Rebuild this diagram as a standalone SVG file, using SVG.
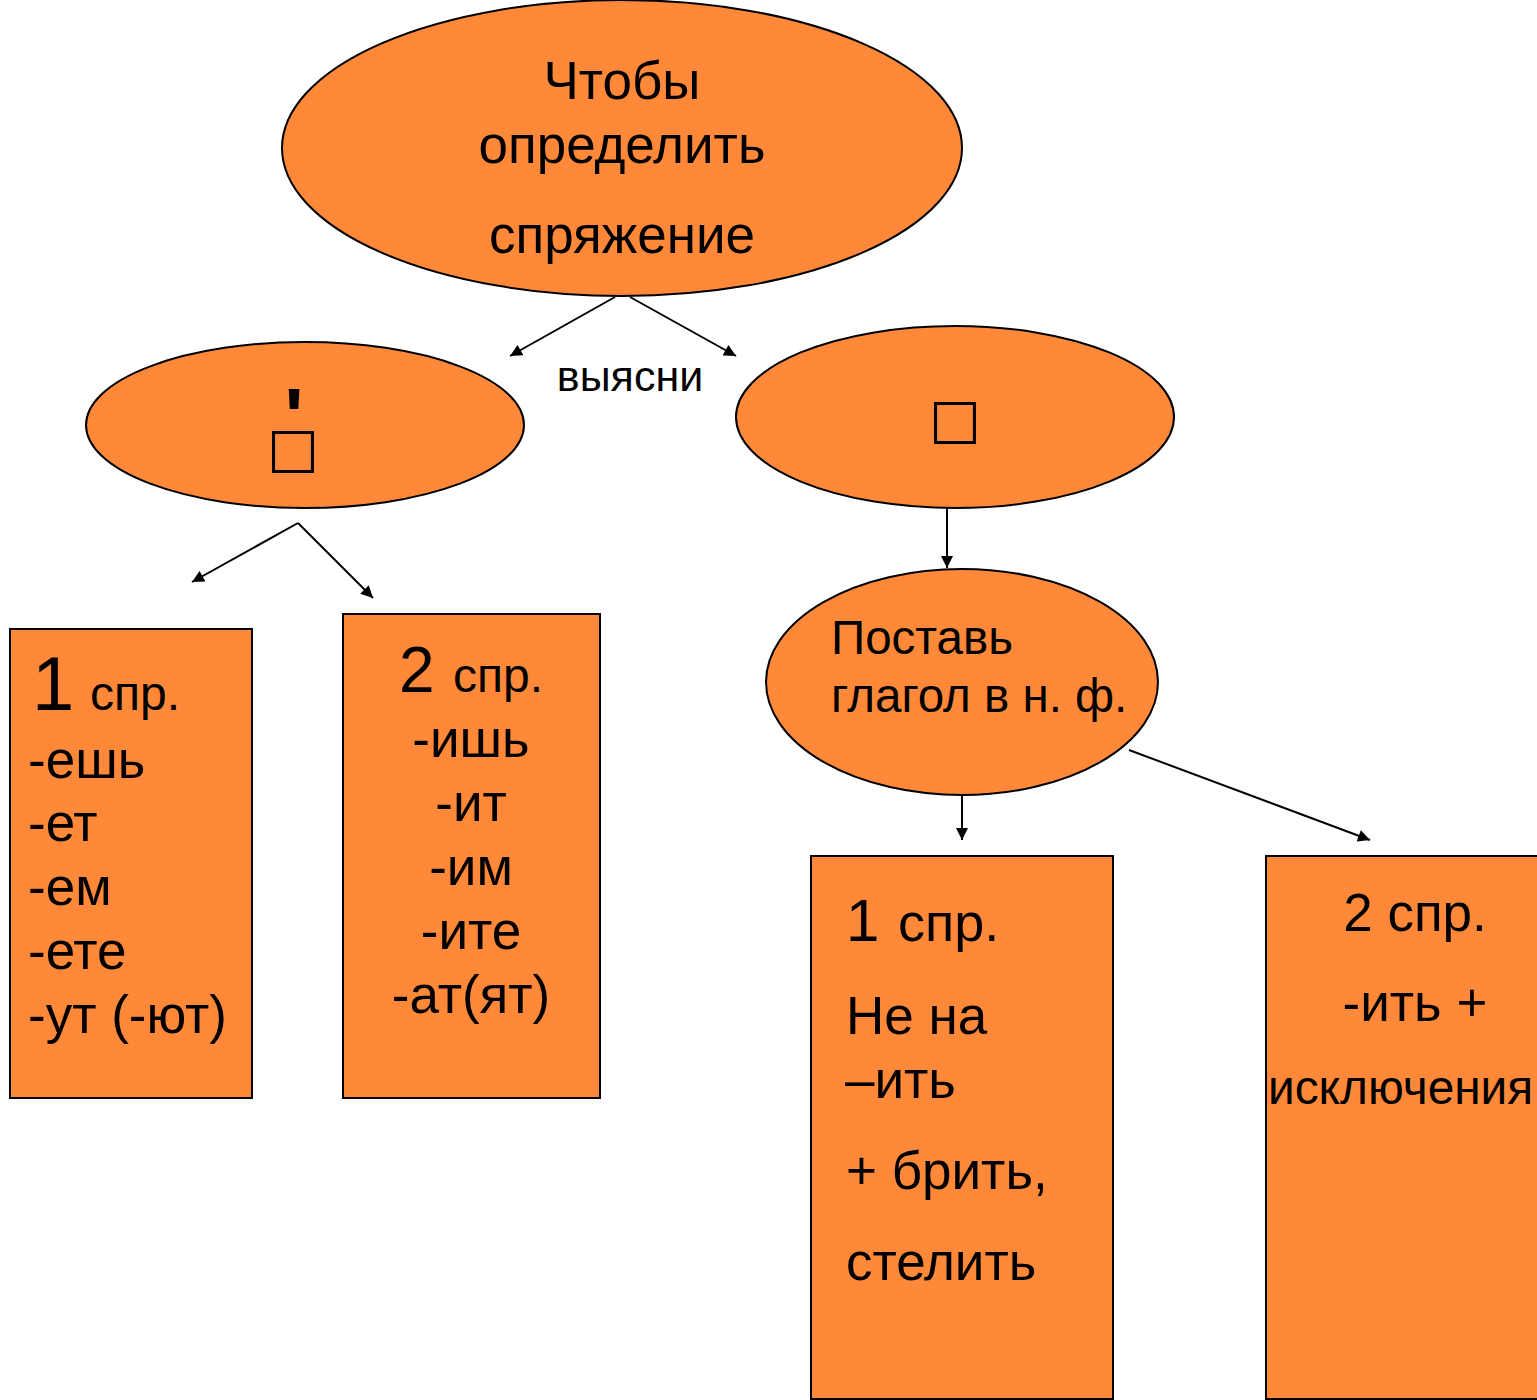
<svg xmlns="http://www.w3.org/2000/svg" width="1537" height="1400" viewBox="0 0 1537 1400">
<defs>
<style>
.n{fill:#FF8939;stroke:#000;stroke-width:2}
.t{font-family:"Liberation Sans",Arial,sans-serif;fill:#000}
.c{stroke:#000;stroke-width:2;fill:none;marker-end:url(#ah)}
.sq{font-family:"DejaVu Sans",sans-serif;fill:#000}
</style>
<marker id="ah" viewBox="0 0 10 10" refX="10" refY="5" markerWidth="16" markerHeight="12" markerUnits="userSpaceOnUse" orient="auto"><path d="M0,0L10,5L0,10z" fill="#000"/></marker>
</defs>
<rect width="1537" height="1400" fill="#fff"/>
<g id="connectors">
<line class="c" x1="615" y1="297" x2="510" y2="356"/>
<line class="c" x1="630" y1="297" x2="736" y2="356"/>
<line class="c" x1="298" y1="523" x2="192" y2="582"/>
<line class="c" x1="298" y1="523" x2="373" y2="598"/>
<line class="c" x1="947" y1="508" x2="947" y2="568"/>
<line class="c" x1="962" y1="796" x2="962" y2="840"/>
<line class="c" x1="1129" y1="750" x2="1370" y2="840"/>
<text class="t" x="630" y="391" font-size="43" text-anchor="middle">выясни</text>
</g>
<g id="top">
<ellipse class="n" cx="622" cy="148" rx="340" ry="148"/>
<text class="t" font-size="53" text-anchor="middle"><tspan x="622" y="99">Чтобы</tspan><tspan x="622" y="163">определить</tspan><tspan x="622" y="253">спряжение</tspan></text>
</g>
<g id="left">
<ellipse class="n" cx="305" cy="425" rx="219" ry="83"/>
<text class="sq" font-size="55" text-anchor="middle"><tspan x="294" y="444" font-family="Liberation Sans" font-weight="bold" font-size="80">'</tspan><tspan x="293" y="466">□</tspan></text>
</g>
<g id="right">
<ellipse class="n" cx="955" cy="417" rx="219" ry="91"/>
<text class="sq" x="955" y="437" font-size="55" text-anchor="middle">□</text>
</g>
<g id="box1">
<rect class="n" x="10" y="629" width="242" height="469"/>
<text class="t" x="32" y="710" font-size="76">1</text>
<text class="t" x="90" y="710" font-size="48">спр.</text>
<text class="t" font-size="53"><tspan x="28" y="778">-ешь</tspan><tspan x="28" y="841">-ет</tspan><tspan x="28" y="905">-ем</tspan><tspan x="28" y="969">-ете</tspan><tspan x="28" y="1033">-ут (-ют)</tspan></text>
</g>
<g id="box2">
<rect class="n" x="343" y="614" width="257" height="484"/>
<text class="t" x="399" y="692" font-size="64">2</text>
<text class="t" x="453" y="692" font-size="48">спр.</text>
<text class="t" font-size="53" text-anchor="middle"><tspan x="471" y="757">-ишь</tspan><tspan x="471" y="821">-ит</tspan><tspan x="471" y="885">-им</tspan><tspan x="471" y="949">-ите</tspan><tspan x="471" y="1013">-ат(ят)</tspan></text>
</g>
<g id="inf">
<ellipse class="n" cx="962" cy="682" rx="196" ry="113"/>
<text class="t" font-size="47.5"><tspan x="831" y="654">Поставь</tspan><tspan x="831" y="712">глагол в н. ф.</tspan></text>
</g>
<g id="box3">
<rect class="n" x="811" y="856" width="302" height="543"/>
<text class="t" x="846" y="941" font-size="60">1</text>
<text class="t" x="898" y="941" font-size="54">спр.</text>
<text class="t" font-size="53"><tspan x="846" y="1034">Не на</tspan><tspan x="845" y="1098">–ить</tspan><tspan x="846" y="1189">+ брить,</tspan><tspan x="846" y="1280">стелить</tspan></text>
</g>
<g id="box4">
<rect class="n" x="1266" y="856" width="274" height="543"/>
<text class="t" font-size="53" text-anchor="middle"><tspan x="1415" y="931">2 спр.</tspan><tspan x="1415" y="1021">-ить +</tspan></text>
<text class="t" x="1268" y="1104" font-size="47.8">исключения</text>
</g>
</svg>
